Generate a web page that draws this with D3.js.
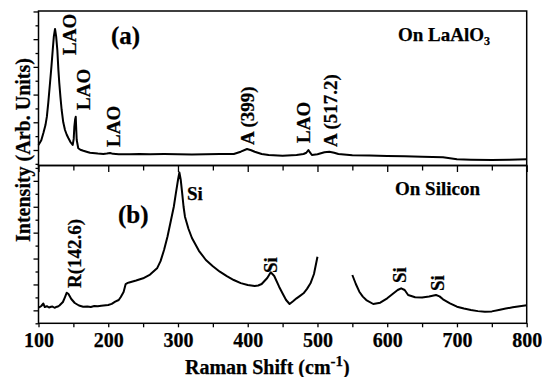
<!DOCTYPE html>
<html><head><meta charset="utf-8">
<script src="https://cdn.jsdelivr.net/npm/d3@7"></script>
<style>
body{margin:0;background:#fff}
text{font-family:"Liberation Serif","Times New Roman",serif;font-weight:bold;fill:#000;stroke:#000;stroke-width:0.25px}
</style></head>
<body><svg id="c" width="542" height="377"></svg>
<script>
// Panel (a): film on LaAlO3
const laoX = [100,104,107,110,112,114,116.5,118.5,120.4,122,123.7,125.3,127,128.5,129.8,131.5,133.2,135.5,138,140.5,142.8,146,149,150.5,151.4,152.5,153.4,154.2,154.8,157,160,164.3,170,173.9,185,193,198,202.6,207,215,231,245,260,280,300,320,340,360,380,390,399,405,410,420,430,450,470,480,484,487,489,492,500,510,517,524,530,550,575,600,625,650,680,690,700,720,750,775,800];
const laoY = [1180,1350,1613,1900,2202,2700,3418,4000,4610,5100,5368,5100,4610,3900,3418,2900,2444,2000,1722,1550,1433,1280,1180,1400,1841,2100,2202,1700,1361,1061,1010,974,930,902,870,855,870,891,860,850,844,858,845,852,848,840,846,855,855,938,1036,990,938,855,820,794,819,855,900,1000,920,819,844,917,938,900,855,808,800,783,770,758,736,700,664,650,639,650,664];
// Panel (b): film on Silicon (null = gap 500-550)
const siX = [100,102,104,107,109,112,115,118,120,123,125,128,130,135,138,140.5,143,147,152,158,164,170,175,180,185,190,200,205,210,215,218,222,225,228,230,240,250,260,270,275,280,285,290,294,297,300,302,304,306,308,310,315,320,330,340,350,360,370,380,390,400,405,410,415,420,428,433,438,445,450,455,460,465,470,475,480,485,490,495,500,525,550,555,560,565,570,580,590,600,610,615,620,625,630,640,650,660,670,675,680,690,700,710,720,730,740,750,760,770,780,790,800];
const siY = [1102,1130,1168,1264,1129,1160,1110,1140,1149,1100,1129,1150,1187,1322,1515,1681,1631,1438,1284,1187,1141,1150,1129,1170,1156,1180,1206,1250,1334,1400,1515,1708,2017,2060,2075,2150,2237,2380,2623,2900,3330,3850,4488,5000,5530,6032,6321,6032,5530,5000,4615,4150,3793,3300,2944,2700,2492,2320,2171,2050,1979,1960,1940,1960,2017,2249,2469,2326,1913,1650,1399,1245,1350,1465,1560,1658,1830,2044,2403,3071,null,2365,2017,1720,1530,1399,1245,1295,1465,1681,1785,1851,1785,1592,1504,1496,1531,1592,1540,1426,1272,1141,1070,1013,970,948,960,1013,1070,1118,1160,1195];

const xTicks = [100,150,200,250,300,350,400,450,500,550,600,650,700,750,800];
const xTickLabels = ["100","200","300","400","500","600","700","800"];
const yTicksA = [500,1000,1500,2000,2500,3000,3500,4000,4500,5000,5500,6000];
const yTicksB = [500,1000,1500,2000,2500,3000,3500,4000,4500,5000,5500,6000,6500];

const svg = d3.select("#c");
const L=38.5, R=526.7, T=11, M=165.5, B=323.3;
const x = d3.scaleLinear().domain([100,800]).range([L,R]);
const ya = d3.scaleLinear().domain([440,6017]).range([M,T]);
const yb = d3.scaleLinear().domain([500,6593]).range([B,M]);

// curves
const lineA = d3.line().x(d=>x(d[0])).y(d=>ya(d[1]));
const lineB = d3.line().defined(d=>d[1]!=null).x(d=>x(d[0])).y(d=>yb(d[1]));
svg.append("path").datum(laoX.map((v,i)=>[v,laoY[i]])).attr("d",lineA)
  .attr("fill","none").attr("stroke","#000").attr("stroke-width",2).attr("stroke-linejoin","round");
svg.append("path").datum(siX.map((v,i)=>[v,siY[i]])).attr("d",lineB)
  .attr("fill","none").attr("stroke","#000").attr("stroke-width",2).attr("stroke-linejoin","round");

// frames
const frame = svg.append("g").attr("fill","none").attr("stroke","#000").attr("stroke-width",1.5);
frame.append("rect").attr("x",L).attr("y",T).attr("width",R-L).attr("height",M-T);
frame.append("rect").attr("x",L).attr("y",M).attr("width",R-L).attr("height",B-M);

// x axes
function styleAxis(g){g.select(".domain").remove();g.selectAll("line").attr("stroke","#000").attr("stroke-width",1.3);}
svg.append("g").attr("transform",`translate(0,${M})`)
  .call(d3.axisBottom(x).tickValues(xTicks).tickFormat(""))
  .call(g=>{styleAxis(g);g.selectAll(".tick line").attr("y2",d=>d%100===0?6.5:5);});
svg.append("g").attr("transform",`translate(0,${B})`)
  .call(d3.axisBottom(x).tickValues(xTicks).tickFormat(d=>d%100===0?xTickLabels[(d-100)/100]:""))
  .call(g=>{styleAxis(g);g.selectAll(".tick line").attr("y2",4);
    g.selectAll(".tick text").attr("y",23.5).attr("dy",0).style("font-size","20px")
     .style("font-family",'"Liberation Serif","Times New Roman",serif').style("font-weight","bold").attr("fill","#000");});

// y axes (no labels)
svg.append("g").attr("transform",`translate(${L},0)`)
  .call(d3.axisLeft(ya).tickValues(yTicksA).tickFormat(""))
  .call(g=>{styleAxis(g);g.selectAll(".tick line").attr("x2",d=>d%1000===0?-5:-3);});
svg.append("g").attr("transform",`translate(${L},0)`)
  .call(d3.axisLeft(yb).tickValues(yTicksB).tickFormat(""))
  .call(g=>{styleAxis(g);g.selectAll(".tick line").attr("x2",d=>d%1000===0?-5:-3);});

// rotated peak labels
function vlab(t,bx,by){
  svg.append("text").attr("transform",`translate(${bx},${by}) rotate(-90)`)
    .style("font-size","19px").text(t);
}
vlab("LAO",76,55);
vlab("LAO",89.5,110);
vlab("LAO",119.5,147);
vlab("A (399)",254,145);
vlab("LAO",309.5,143);
vlab("A (517.2)",337,147);
vlab("R(142.6)",80.5,288);
vlab("Si",277,273);
vlab("Si",406,283);
vlab("Si",444,291);

svg.append("text").attr("x",111).attr("y",44).style("font-size","25px").text("(a)");
svg.append("text").attr("x",118).attr("y",223).style("font-size","25px").text("(b)");
svg.append("text").attr("x",187).attr("y",200).style("font-size","19px").text("Si");
const t1 = svg.append("text").attr("x",398).attr("y",40.5).style("font-size","19px");
t1.append("tspan").text("On LaAlO");
t1.append("tspan").attr("dy",4).style("font-size","12px").text("3");
svg.append("text").attr("x",395).attr("y",195).style("font-size","19px").text("On Silicon");

// axis titles
const xt = svg.append("text").attr("x",185).attr("y",374).style("font-size","20px");
xt.append("tspan").text("Raman Shift (cm");
xt.append("tspan").attr("dy",-8).style("font-size","15px").text("-1");
xt.append("tspan").attr("dy",8).text(")");
svg.append("text").attr("transform","translate(30,150) rotate(-90)").attr("text-anchor","middle")
  .style("font-size","20px").text("Intensity (Arb. Units)");
</script></body></html>
